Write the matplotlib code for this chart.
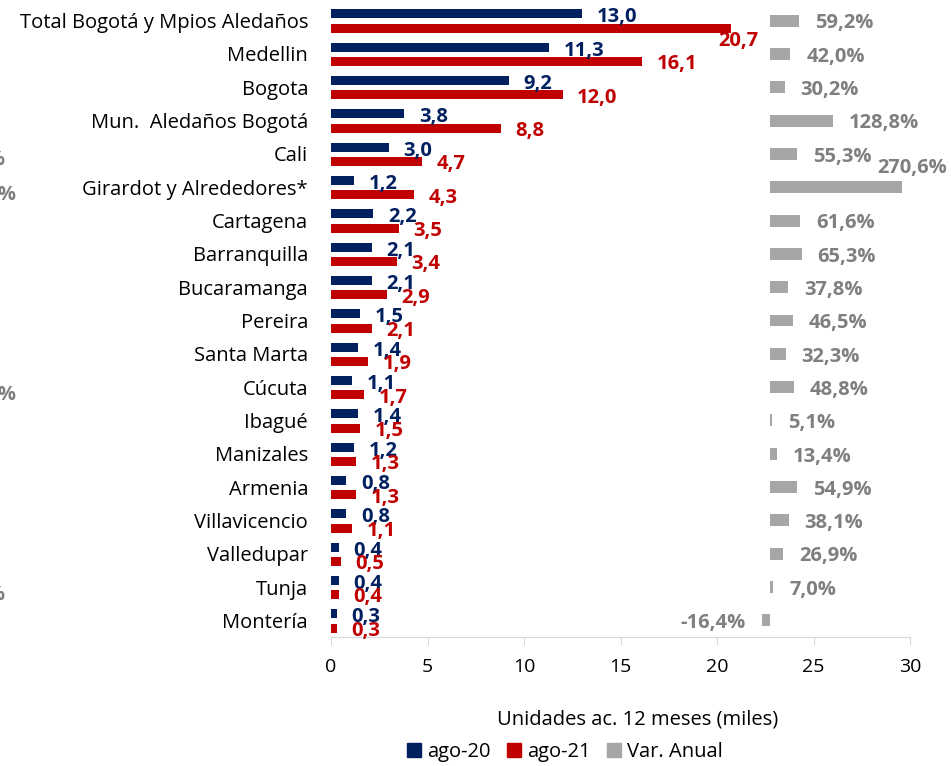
import numpy as np
import matplotlib.pyplot as plt
from matplotlib.patches import Patch

plt.rcParams['font.family'] = ['Open Sans', 'DejaVu Sans']

cities = ['Total Bogotá y Mpios Aledaños', 'Medellin', 'Bogota', 'Mun.  Aledaños Bogotá', 'Cali',
          'Girardot y Alrededores*', 'Cartagena', 'Barranquilla', 'Bucaramanga', 'Pereira',
          'Santa Marta', 'Cúcuta', 'Ibagué', 'Manizales', 'Armenia', 'Villavicencio',
          'Valledupar', 'Tunja', 'Montería']
ago20 = [13.0, 11.3, 9.2, 3.8, 3.0, 1.2, 2.2, 2.1, 2.1, 1.5, 1.4, 1.1, 1.4, 1.2, 0.8, 0.8, 0.4, 0.4, 0.3]
ago21 = [20.7, 16.1, 12.0, 8.8, 4.7, 4.3, 3.5, 3.4, 2.9, 2.1, 1.9, 1.7, 1.5, 1.3, 1.3, 1.1, 0.5, 0.4, 0.3]
var_anual = [59.2, 42.0, 30.2, 128.8, 55.3, 270.6, 61.6, 65.3, 37.8, 46.5, 32.3, 48.8, 5.1, 13.4,
             54.9, 38.1, 26.9, 7.0, -16.4]
xticks = [0, 5, 10, 15, 20, 25, 30]

navy = '#002060'
red = '#c00000'
grey = '#a6a6a6'
grey_txt = '#7f7f7f'
fs = 14.5


def fmt(v, pct=False):
    s = ('%.1f' % v).replace('.', ',')
    return s + '%' if pct else s


fig = plt.figure(figsize=(9.51, 7.66), dpi=100)
ax = fig.add_axes([331 / 951, 1 - 637 / 766, 579 / 951, 633 / 766])
y = np.arange(len(cities))

ax.barh(y - 0.2, ago20, height=0.27, color=navy)
ax.barh(y + 0.23, ago21, height=0.27, color=red)

for i in range(len(cities)):
    ax.annotate(fmt(ago20[i]), (ago20[i], i - 0.2), xytext=(10.5, -2.5), textcoords='offset points',
                ha='left', va='center', fontsize=fs, fontweight='bold', color=navy)
    # the biggest red label sits lower so it clears the grey column
    off = (-9, -9) if i == 0 else (10.5, -2)
    ax.annotate(fmt(ago21[i]), (ago21[i], i + 0.23), xytext=off, textcoords='offset points',
                ha='left', va='center', fontsize=fs, fontweight='bold', color=red)

ax.set_xlim(0, 30)
ax.set_ylim(len(cities) - 0.5, -0.5)
ax.set_xticks(xticks)
ax.set_yticks(y)
ax.set_yticklabels(cities, fontsize=fs)
ax.tick_params(axis='y', length=0, pad=16.5)
ax.tick_params(axis='x', labelsize=14, length=6, color='#d9d9d9', pad=9)
for s in ['top', 'right', 'left']:
    ax.spines[s].set_visible(False)
ax.spines['bottom'].set_color('#d9d9d9')
ax.set_xlabel('Unidades ac. 12 meses (miles)', fontsize=fs)
ax.xaxis.set_label_coords(0.53, -0.115)

ax2 = ax.twiny()
ax2.barh(y, var_anual, height=0.36, color=grey)
ax2.set_xlim(-903, 288)
ax2.axis('off')
vmax = max(var_anual)
for i, v in enumerate(var_anual):
    if v == vmax:
        # too long to fit on the right, pulled up and inside
        ax2.annotate(fmt(v, True), (v, i), xytext=(33, 14), textcoords='offset points',
                     ha='right', va='center', fontsize=fs, fontweight='bold', color=grey_txt)
    elif v >= 0:
        ax2.annotate(fmt(v, True), (v, i), xytext=(11.5, -2), textcoords='offset points',
                     ha='left', va='center', fontsize=fs, fontweight='bold', color=grey_txt)
    else:
        ax2.annotate(fmt(v, True), (v, i), xytext=(-11.5, -2), textcoords='offset points',
                     ha='right', va='center', fontsize=fs, fontweight='bold', color=grey_txt)

# clipped labels sticking in from the left edge
for yy, xx in [(160, 5), (195, 16), (395, 16), (595, 5)]:
    fig.text(xx / 951, 1 - yy / 766, '9,9%', ha='right', va='center', fontsize=fs,
             fontweight='bold', color=grey_txt)

handles = [Patch(color=navy, label='ago-20'), Patch(color=red, label='ago-21'),
           Patch(color=grey, label='Var. Anual')]
fig.legend(handles=handles, loc='center', bbox_to_anchor=(565 / 951, 1 - 752 / 766), ncol=3,
           frameon=False, fontsize=fs, handlelength=0.7, handleheight=0.7, handletextpad=0.3,
           columnspacing=0.8)

fig.savefig('out.png', dpi=100)
